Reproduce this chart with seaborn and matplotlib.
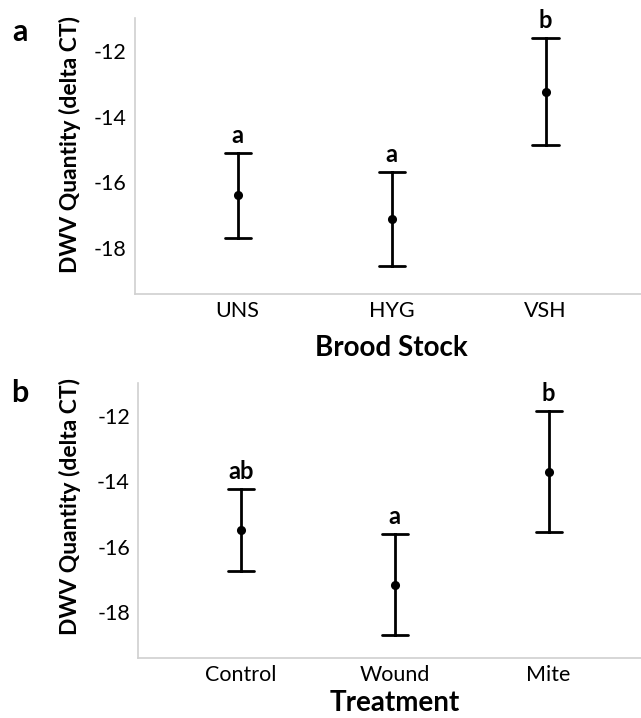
import numpy as np
import pandas as pd
import matplotlib
matplotlib.use("Agg")
import matplotlib.pyplot as plt
import seaborn as sns

# ---- data ----
stock_cats = ["UNS", "HYG", "VSH"]
stock_means = [-16.40, -17.11, -13.24]
stock_errs = [1.28, 1.42, 1.64]
stock_letters = ["a", "a", "b"]

treat_cats = ["Control", "Wound", "Mite"]
treat_means = [-15.48, -17.16, -13.70]
treat_errs = [1.25, 1.55, 1.85]
treat_letters = ["ab", "a", "b"]

yticks = [-12, -14, -16, -18]

sns.set_theme(style="white")
plt.rcParams["font.family"] = ["Lato", "DejaVu Sans"]
plt.rcParams["text.color"] = "black"
plt.rcParams["axes.labelcolor"] = "black"

fig = plt.figure(figsize=(6.41, 7.18), dpi=100)

def long_table(cats, means, errs):
    rows = []
    for c, m, e in zip(cats, means, errs):
        for v in (m - e, m, m + e):
            rows.append({"cat": c, "val": v})
    return pd.DataFrame(rows)

def panel(rect, cats, means, errs, letters, xlabel, xlim_right, ylab_xy, xlab_y):
    ax = fig.add_axes(rect)
    df = long_table(cats, means, errs)
    sns.pointplot(data=df, x="cat", y="val", order=cats, ax=ax,
                  estimator="mean", errorbar=lambda x: (x.min(), x.max()),
                  linestyles="none", color="black", markersize=4.5,
                  capsize=0.17, err_kws={"linewidth": 2.0})
    ax.set_ylim(-19.4, -11)
    ax.set_xlim(-0.667, xlim_right)
    ax.set_yticks(yticks)
    ax.set_yticklabels([str(t) for t in yticks])
    ax.tick_params(axis="both", length=0, labelsize=15.5, colors="black")
    ax.tick_params(axis="y", pad=6)
    ax.tick_params(axis="x", pad=5)
    for s in ("top", "right"):
        ax.spines[s].set_visible(False)
    for s in ("left", "bottom"):
        ax.spines[s].set_color("#d0d0d0")
        ax.spines[s].set_linewidth(1.2)
    ax.set_xlabel(xlabel, fontsize=20, fontweight="bold")
    ax.set_ylabel("DWV Quantity (delta CT)", fontsize=16.5, fontweight="bold")
    ax.xaxis.set_label_coords((1 + 0.667) / (xlim_right + 0.667), xlab_y)
    ax.xaxis.label.set_va("baseline")
    ax.yaxis.set_label_coords(*ylab_xy)
    ax.yaxis.label.set_va("center")
    for i, (m, e, l) in enumerate(zip(means, errs, letters)):
        ax.text(i, m + e + 0.3, l, ha="center", va="baseline",
                fontsize=17, fontweight="bold")
    return ax

axa = panel([135/641, 1 - 294.2/718, 1 - 135/641, (294.2 - 17.8)/718],
            stock_cats, stock_means, stock_errs, stock_letters,
            "Brood Stock", 2.62, ((70 - 135) / 506, 0.54), -0.2236)
axb = panel([138.3/641, 1 - 658/718, 1 - 138.3/641, (658 - 383.3)/718],
            treat_cats, treat_means, treat_errs, treat_letters,
            "Treatment", 2.60, ((70 - 138.3) / 502.7, 0.551), -0.193)

fig.text(20/641, 1 - 32/718, "a", fontsize=22, fontweight="bold", ha="center", va="center")
fig.text(20/641, 1 - 393/718, "b", fontsize=22, fontweight="bold", ha="center", va="center")

fig.savefig("out.png", dpi=100, facecolor="white")
